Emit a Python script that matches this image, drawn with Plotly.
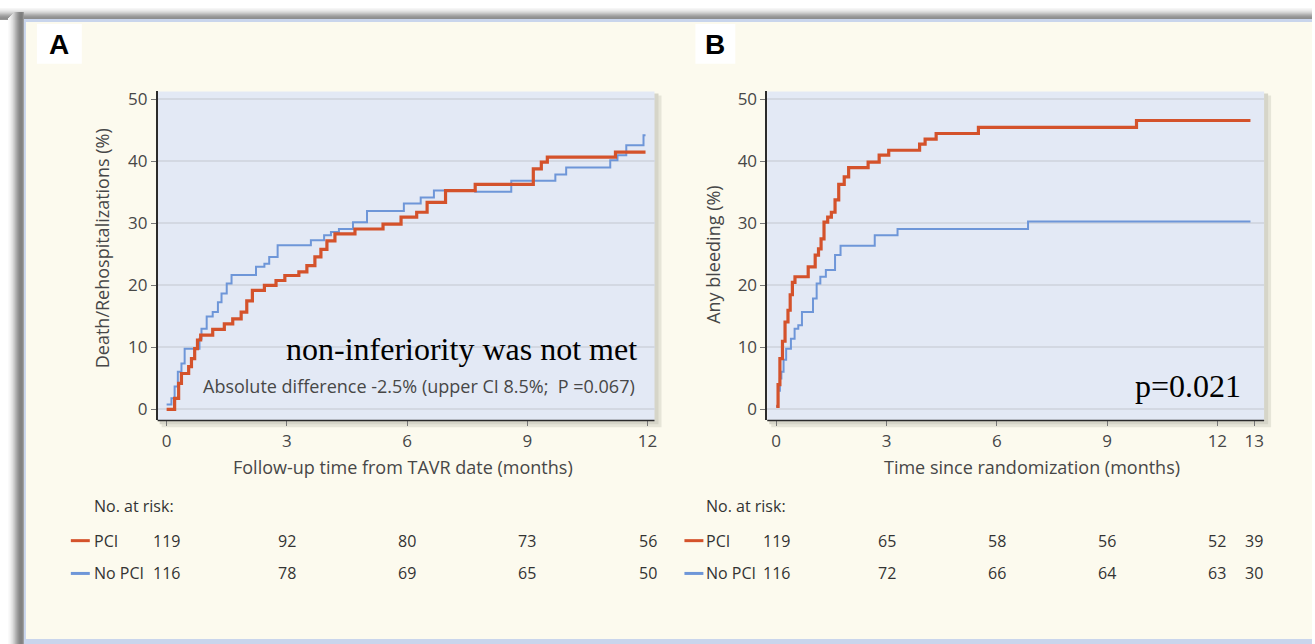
import plotly.graph_objects as go

# ---------------- data ----------------
# Panel A: Death/Rehospitalizations (%) vs months from TAVR
a_pci_t = [0, 0.2, 0.3, 0.37, 0.55, 0.62, 0.7, 0.77, 0.85, 1.15, 1.44, 1.65, 1.86, 2.0, 2.14, 2.44, 2.73, 2.95,
           3.3, 3.5, 3.7, 3.85, 4.0, 4.2, 4.7, 5.4, 5.85, 6.24, 6.5, 6.96, 7.7, 9.15, 9.35, 9.5, 11.2, 11.95]
a_pci_v = [0, 1.8, 4.2, 5.8, 6.9, 8.2, 9.8, 11.2, 12.0, 12.9, 13.8, 14.6, 15.7, 17.5, 19.2, 20.0, 20.8, 21.6,
           22.2, 23.2, 24.6, 25.8, 27.2, 28.3, 29.1, 29.9, 31.0, 31.8, 33.4, 35.3, 36.3, 38.8, 39.9, 40.7, 41.5, 41.5]

a_nopci_t = [0, 0.12, 0.2, 0.28, 0.37, 0.45, 0.82, 0.87, 1.0, 1.15, 1.28, 1.37, 1.5, 1.62, 2.23, 2.44, 2.56, 2.77,
             3.6, 3.93, 4.1, 4.3, 4.65, 5.0, 5.92, 6.34, 6.67, 7.7, 8.6, 9.7, 9.97, 11.07, 11.25, 11.47, 11.9, 11.95]
a_nopci_v = [0.8, 1.8, 3.7, 6.1, 7.4, 9.8, 11.4, 13.0, 15.0, 15.7, 17.3, 18.7, 20.3, 21.7, 23.0, 23.5, 24.6, 26.5,
             27.3, 28.1, 28.6, 29.1, 30.2, 32.0, 33.2, 34.2, 35.3, 35.1, 36.9, 37.9, 39.0, 40.2, 41.0, 42.6, 44.2, 44.2]

# Panel B: Any bleeding (%) vs months since randomization
b_pci_t = [0, 0.05, 0.1, 0.17, 0.24, 0.32, 0.38, 0.44, 0.51, 0.87, 1.06, 1.15, 1.22, 1.3, 1.4, 1.5, 1.6, 1.7,
           1.85, 1.97, 2.5, 2.8, 3.06, 3.9, 4.05, 4.35, 5.5, 9.8, 12.9]
b_pci_v = [0.5, 4.0, 8.2, 11.0, 14.1, 16.0, 18.5, 20.5, 21.4, 23.0, 24.9, 25.9, 27.5, 30.2, 31.0, 31.8, 33.8, 36.3,
           37.5, 39.0, 39.9, 41.0, 41.8, 42.8, 43.6, 44.5, 45.5, 46.6, 46.6]

b_nopci_t = [0, 0.05, 0.1, 0.14, 0.2, 0.27, 0.4, 0.5, 0.6, 0.7, 1.0, 1.1, 1.2, 1.35, 1.6, 1.75, 2.68, 3.3, 6.85, 12.9]
b_nopci_v = [0.5, 3.0, 5.0, 6.1, 8.0, 9.8, 11.4, 13.0, 13.6, 15.7, 17.9, 20.3, 21.4, 22.5, 24.9, 26.4, 28.1, 29.1,
             30.3, 30.3]

# Numbers at risk
a_risk_t = [0, 3, 6, 9, 12]
a_risk_pci = [119, 92, 80, 73, 56]
a_risk_nopci = [116, 78, 69, 65, 50]
b_risk_t = [0, 3, 6, 9, 12, 13]
b_risk_pci = [119, 65, 58, 56, 52, 39]
b_risk_nopci = [116, 72, 66, 64, 63, 30]

a_xticks = [0, 3, 6, 9, 12]
b_xticks = [0, 3, 6, 9, 12, 13]
y_ticks = [0, 10, 20, 30, 40, 50]

# ---------------- styling ----------------
W, H = 1315, 644
RED = "#D4522B"
BLUE = "#6E96D8"
CREAM = "#FCFAEE"
PLOTBG = "#E3E9F5"
GRID = "#D3D8E2"
TXT = "#474747"
SANS = "Open Sans, Noto Sans, sans-serif"
SERIF = "Liberation Serif, Times New Roman, serif"


def px(x):
    return x / W


def py(y):
    return 1 - y / H


fig = go.Figure()

fig.add_trace(go.Scatter(x=a_nopci_t, y=a_nopci_v, mode="lines", line=dict(color=BLUE, width=2, shape="hv"),
                         xaxis="x", yaxis="y", showlegend=False, hoverinfo="skip"))
fig.add_trace(go.Scatter(x=a_pci_t, y=a_pci_v, mode="lines", line=dict(color=RED, width=3.2, shape="hv"),
                         xaxis="x", yaxis="y", showlegend=False, hoverinfo="skip"))
fig.add_trace(go.Scatter(x=b_nopci_t, y=b_nopci_v, mode="lines", line=dict(color=BLUE, width=2, shape="hv"),
                         xaxis="x2", yaxis="y2", showlegend=False, hoverinfo="skip"))
fig.add_trace(go.Scatter(x=b_pci_t, y=b_pci_v, mode="lines", line=dict(color=RED, width=3.2, shape="hv"),
                         xaxis="x2", yaxis="y2", showlegend=False, hoverinfo="skip"))

# plot area pixel boxes
A_L, A_R = 158, 656
B_L, B_R = 769, 1267
P_T, P_B = 88, 419
Y0_PX, Y50_PX = 408, 96
ppu = (Y0_PX - Y50_PX) / 50.0
y_rng = [(Y0_PX - P_B) / ppu, (Y0_PX - P_T) / ppu]

a_x0, a_x12 = 167, 649
a_ppm = (a_x12 - a_x0) / 12.0
a_rng = [(A_L - a_x0) / a_ppm, (A_R - a_x0) / a_ppm]
b_x0, b_x13 = 778, 1257
b_ppm = (b_x13 - b_x0) / 13.0
b_rng = [(B_L - b_x0) / b_ppm, (B_R - b_x0) / b_ppm]

common_x = dict(showgrid=False, zeroline=False, showline=False, ticks="outside", ticklen=5, tickwidth=1,
                tickcolor="#777", tickfont=dict(family=SANS, size=17, color=TXT), fixedrange=True)
common_y = dict(showgrid=True, gridcolor=GRID, gridwidth=2, zeroline=False, showline=True, linecolor="#2b2b2b",
                linewidth=1.5, ticks="outside", ticklen=5, tickwidth=1, tickcolor="#777",
                tickfont=dict(family=SANS, size=17, color=TXT), tickvals=y_ticks, range=y_rng, fixedrange=True)

fig.update_layout(
    width=W, height=H,
    margin=dict(l=0, r=0, t=0, b=0),
    paper_bgcolor="white",
    plot_bgcolor="rgba(0,0,0,0)",
    xaxis=dict(domain=[px(A_L), px(A_R)], range=a_rng, tickvals=a_xticks, anchor="y", **common_x),
    yaxis=dict(domain=[py(P_B), py(P_T)], anchor="x", **common_y),
    xaxis2=dict(domain=[px(B_L), px(B_R)], range=b_rng, tickvals=b_xticks, anchor="y2", **common_x),
    yaxis2=dict(domain=[py(P_B), py(P_T)], anchor="x2", **common_y),
)

shapes = []


def rect(x0, y0, x1, y1, color, line=None):
    shapes.append(dict(type="rect", xref="paper", yref="paper", x0=px(x0), x1=px(x1), y0=py(y1), y1=py(y0),
                       fillcolor=color, line=dict(width=0) if line is None else line, layer="below"))


# outer frame shadow (gradients)
top_shades = [246, 240, 232, 222, 210, 196, 180, 166, 154, 146, 142, 150]
for i, g in enumerate(top_shades):
    rect(0, 4 + i, W, 5 + i, f"rgb({g},{g},{g})")
left_shades = [250, 246, 240, 232, 222, 210, 196, 182, 168, 154, 142, 132, 126, 124, 130, 150]
for i, g in enumerate(left_shades):
    rect(8 + i, 8 + max(0, 6 - i), 9 + i, H, f"rgb({g},{g},{g})")
rect(24, 15, W, H, "#C9D5EC")
rect(26, 18, W, 639, CREAM)

# plot area shadows and backgrounds
for (L, R) in [(A_L, A_R), (B_L, B_R)]:
    rect(L + 4, P_T + 4, R + 7, P_B + 7, "#E6E5D8")
    rect(L + 2, P_T + 2, R + 4, P_B + 4, "#D6D5C8")
    rect(L, P_T, R, P_B, PLOTBG)
    shapes.append(dict(type="line", xref="paper", yref="paper", x0=px(L), x1=px(R), y0=py(P_B), y1=py(P_B),
                       line=dict(color="#2b2b2b", width=1.5), layer="above"))

# panel letter boxes
rect(37, 20, 82, 60, "white")
rect(697, 20, 737, 60, "white")

# risk table dashes
for (x0, x1) in [(71, 90), (686, 705)]:
    shapes.append(dict(type="line", xref="paper", yref="paper", x0=px(x0), x1=px(x1), y0=py(540), y1=py(540),
                       line=dict(color=RED, width=3), layer="above"))
    shapes.append(dict(type="line", xref="paper", yref="paper", x0=px(x0), x1=px(x1), y0=py(573), y1=py(573),
                       line=dict(color=BLUE, width=3), layer="above"))

fig.update_layout(shapes=shapes)

ann = []


def text(x, y, s, size=15, color=TXT, family=SANS, xanchor="center", angle=0, bold=False):
    ann.append(dict(x=px(x), y=py(y), xref="paper", yref="paper", text=("<b>%s</b>" % s) if bold else s,
                    showarrow=False, xanchor=xanchor, yanchor="middle", textangle=angle,
                    font=dict(family=family, size=size, color=color)))


text(59, 41, "A", size=28, color="black", family="Liberation Sans, Arial, sans-serif", bold=True)
text(717, 41, "B", size=28, color="black", family="Liberation Sans, Arial, sans-serif", bold=True)

text(103, 246, "Death/Rehospitalizations (%)", size=18, angle=-90)
text(715, 252, "Any bleeding (%)", size=18, angle=-90)
text(404, 466, "Follow-up time from TAVR date (months)", size=18)
text(1034, 466, "Time since randomization (months)", size=18)

text(463, 347, "non-inferiority was not met", size=32, color="black", family=SERIF)
text(420, 384, "Absolute difference -2.5% (upper CI 8.5%;  P =0.067)", size=18)
text(1191, 384, "p=0.021", size=32, color="black", family=SERIF)

# risk tables
RT = 16
text(92, 505, "No. at risk:", size=RT, color="#333", xanchor="left")
text(92, 540, "PCI", size=RT, color="#333", xanchor="left")
text(92, 573, "No PCI", size=RT, color="#333", xanchor="left")
text(706, 505, "No. at risk:", size=RT, color="#333", xanchor="left")
text(706, 540, "PCI", size=RT, color="#333", xanchor="left")
text(706, 573, "No PCI", size=RT, color="#333", xanchor="left")

for xr, ts, r1, r2 in [("x", a_risk_t, a_risk_pci, a_risk_nopci), ("x2", b_risk_t, b_risk_pci, b_risk_nopci)]:
    for t, n1, n2 in zip(ts, r1, r2):
        for n, yy in [(n1, 540), (n2, 573)]:
            ann.append(dict(x=t, y=py(yy), xref=xr, yref="paper", text=str(n), showarrow=False,
                            xanchor="center", yanchor="middle", font=dict(family=SANS, size=RT, color="#333")))

fig.update_layout(annotations=ann)

fig.write_html("out.html", config={"displayModeBar": False},
               post_script="document.body.style.margin='0';document.body.style.padding='0';"
                           "document.body.style.overflow='hidden';")
